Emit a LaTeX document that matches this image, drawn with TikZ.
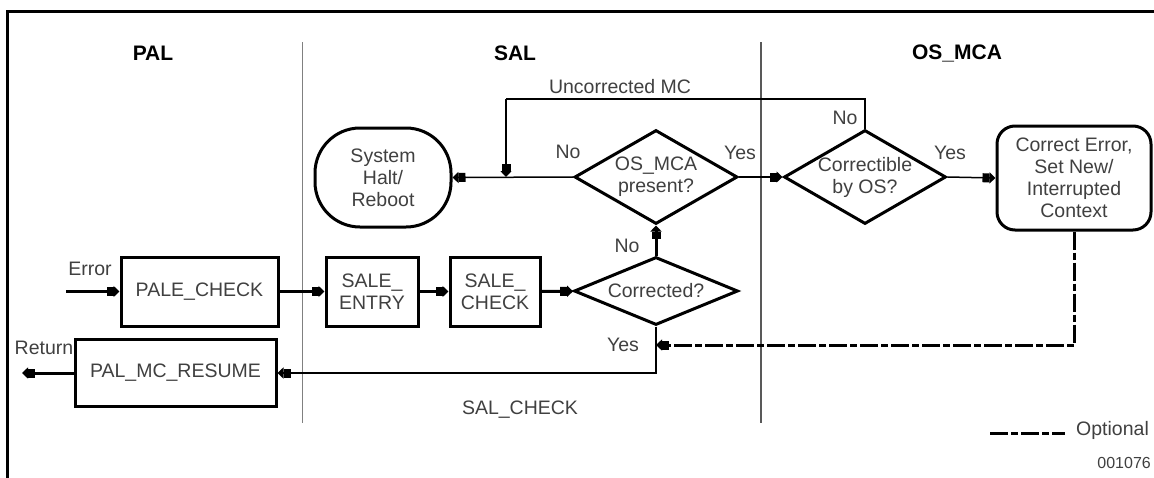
\documentclass[tikz,border=0pt]{standalone}
\usepackage{fontspec}
\setmainfont{Liberation Sans}
\usetikzlibrary{shapes.geometric,arrows.meta}

\begin{document}
\begin{tikzpicture}[x=1pt,y=-1pt,
    txt/.style={font=\fontsize{19.5}{22}\selectfont, text=black!75, align=center, inner sep=0pt},
    hdr/.style={font=\fontsize{21}{24}\selectfont\bfseries},
    box/.style={draw, line width=3pt, txt, minimum height=69pt},
    dec/.style={draw, diamond, line width=3pt, inner sep=0pt},
    arr/.style={-{Rectangle[length=7pt,width=9pt]Triangle[length=6pt,width=11pt]}},
    opt/.style={line width=3pt, dash pattern=on 18pt off 3pt on 7pt off 3pt}]
      \useasboundingbox (0,0) rectangle (1154,477);
      \clip (0,0) rectangle (1154,477);
      \fill[white] (0,0) rectangle (1154,477);
      \draw[line width=3pt] (1200,11) -| (7,500);
      \draw[gray, line width=1pt] (302,42) -- (302,423);
      \draw[gray!70!black, line width=2.5pt] (761,42) -- (761,423);
      \node[hdr] (pal) at (153,53) {PAL};
      \node[hdr] (sal) at (515,53) {SAL};
      \node[hdr] (os) at (957,53) {OS\_MCA};
      \node[box, minimum width=157pt] (pale) at (199.5,291.5) {PALE\_CHECK};
      \node[box, minimum width=92pt] (entry) at (372,291.5) {SALE\_\\ENTRY};
      \node[box, minimum width=90pt] (salechk) at (495,291.5) {SALE\_\\CHECK};
      \node[box, minimum width=201pt, minimum height=67pt] (resume) at (175.5,373) {PAL\_MC\_RESUME};
      \node[dec, minimum width=164pt, minimum height=68pt, label={[txt]center:Corrected?}] (cor) at (656,291) {};
      \node[dec, minimum width=163pt, minimum height=94pt, label={[txt]center:{OS\_MCA\\present?}}] (present) at (656,177) {};
      \node[dec, minimum width=162pt, minimum height=94pt, label={[txt]center:{Correctible\\by OS?}}] (byos) at (865,177) {};
      \node[draw, line width=3pt, rounded corners=45pt, minimum width=136pt, minimum height=99pt, txt] (halt) at (383,177.5) {System\\Halt/\\Reboot};
      \node[draw, line width=3pt, rounded corners=18pt, minimum width=154pt, minimum height=104pt, txt] (fix) at (1074,178) {Correct Error,\\Set New/\\Interrupted\\Context};
      \coordinate (err) at (66,291.5);
      \coordinate (ret) at (22,373);
      \coordinate (dj) at (656,345);
      \coordinate (turn) at (506,99);
      \coordinate (junc) at (506,177);
      \draw[line width=3pt, arr] (err) -- (pale.west);
      \draw[line width=3pt, arr] (pale) -- (entry);
      \draw[line width=3pt, arr] (entry) -- (salechk);
      \draw[line width=3pt, arr] (salechk) -- (cor);
      \draw[line width=3pt, arr] (cor) -- (present);
      \draw[line width=1.5pt, arr] (cor.south) |- (resume.east);
      \draw[line width=3pt, arr] (resume) -- (ret);
      \draw[opt, arr] (fix.south) |- (dj);
      \draw[line width=1.5pt, arr] (present.west) -- (halt.east);
      \draw[line width=1.5pt] (byos.north) |- (turn);
      \draw[line width=2.5pt, arr] (turn) -- (junc);
      \draw[line width=1.5pt, arr] (present.east) -- (byos.west);
      \draw[line width=1.5pt, arr] (byos.east) -- (fix.west);
      \node[txt] (errtxt) at (90,269) {Error};
      \node[txt] (rettxt) at (44,348) {Return};
      \node[txt] (yes1) at (623,345) {Yes};
      \node[txt] (no1) at (627,246) {No};
      \node[txt] (unc) at (620,87) {Uncorrected MC};
      \node[txt] (no2) at (568,152) {No};
      \node[txt] (yes2) at (740,153) {Yes};
      \node[txt] (no3) at (845,118) {No};
      \node[txt] (yes3) at (950,153) {Yes};
      \node[txt] (salchk) at (520,410) {SAL\_CHECK};
      \coordinate (la) at (990,433);
      \coordinate (lb) at (1065,433);
      \draw[opt] (la) -- (lb);
      \node[txt, anchor=west] (optl) at (1076,430) {Optional};
      \node[txt, font=\fontsize{16}{18}\selectfont, anchor=east] (fig) at (1151,463) {001076};
    \end{tikzpicture}
\end{document}
